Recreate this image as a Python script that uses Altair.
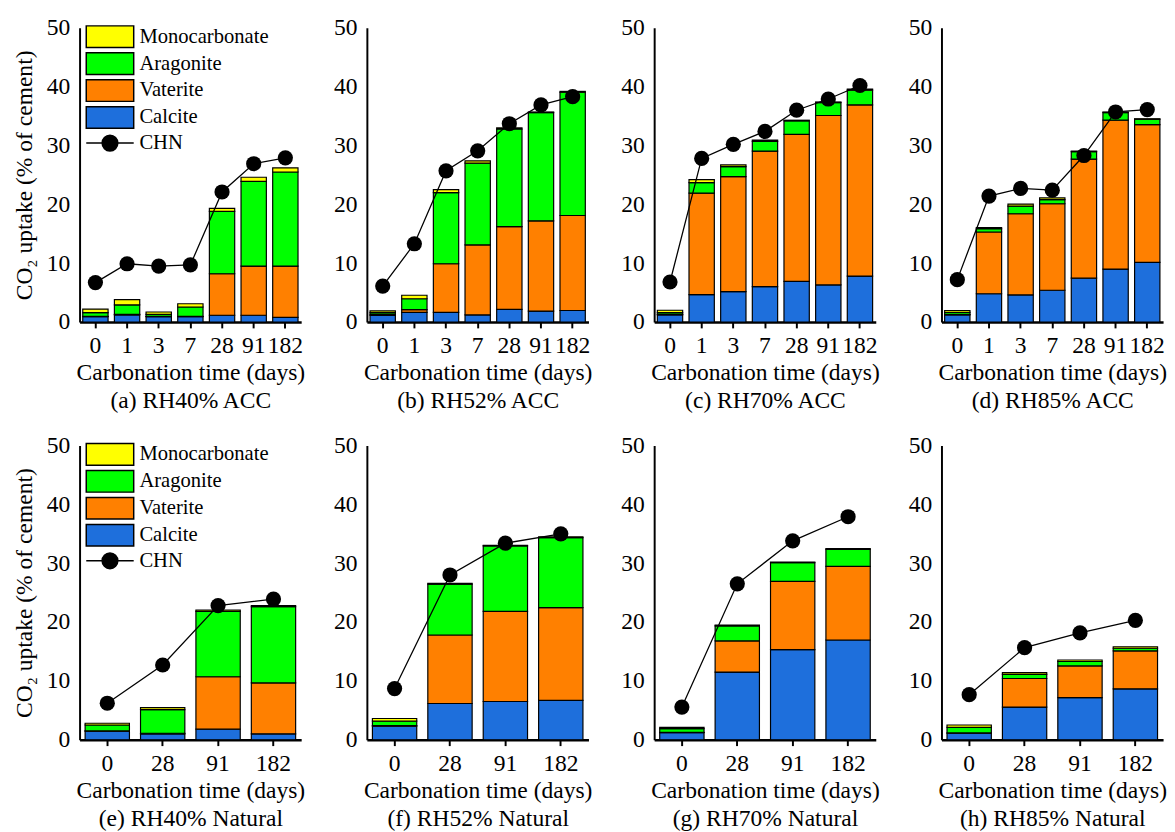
import altair as alt
import pandas as pd

FONT = "Liberation Serif"

components = ["Calcite", "Vaterite", "Aragonite", "Monocarbonate"]
legend_domain = ["Monocarbonate", "Aragonite", "Vaterite", "Calcite", "CHN"]
legend_colors = ["#FFFF00", "#00FF00", "#FF8000", "#1E6FDC", "#000000"]

acc_times = ["0", "1", "3", "7", "28", "91", "182"]
nat_times = ["0", "28", "91", "182"]

# (a) RH40% ACC
a_calcite = [0.9, 1.2, 0.9, 0.9, 1.15, 1.15, 0.8]
a_vaterite = [0.05, 0.1, 0.05, 0.05, 7.05, 8.35, 8.7]
a_aragonite = [0.65, 1.6, 0.35, 1.6, 10.6, 14.4, 16.0]
a_mono = [0.6, 0.9, 0.4, 0.55, 0.5, 0.7, 0.7]
a_chn = [6.7, 9.9, 9.5, 9.7, 22.1, 26.9, 27.9]

# (b) RH52% ACC
b_calcite = [1.1, 1.65, 1.65, 1.2, 2.15, 1.85, 1.95]
b_vaterite = [0.2, 0.45, 8.25, 11.9, 14.05, 15.35, 16.15]
b_aragonite = [0.3, 1.85, 12.1, 13.9, 16.6, 18.4, 20.95]
b_mono = [0.3, 0.6, 0.5, 0.4, 0.2, 0.1, 0.15]
b_chn = [6.1, 13.3, 25.7, 29.1, 33.7, 36.9, 38.3]

# (c) RH70% ACC
c_calcite = [1.2, 4.65, 5.15, 6.0, 6.9, 6.3, 7.8]
c_vaterite = [0.1, 17.25, 19.55, 23.05, 25.0, 28.8, 29.1]
c_aragonite = [0.3, 1.8, 1.7, 1.65, 2.3, 2.2, 2.5]
c_mono = [0.4, 0.5, 0.3, 0.2, 0.1, 0.1, 0.2]
c_chn = [6.8, 27.8, 30.2, 32.4, 36.0, 37.9, 40.2]

# (d) RH85% ACC
d_calcite = [1.2, 4.8, 4.6, 5.4, 7.45, 9.0, 10.15]
d_vaterite = [0.1, 10.5, 13.8, 14.7, 20.25, 25.3, 23.4]
d_aragonite = [0.35, 0.55, 1.3, 0.7, 1.25, 1.3, 0.9]
d_mono = [0.3, 0.2, 0.35, 0.3, 0.1, 0.1, 0.1]
d_chn = [7.2, 21.4, 22.7, 22.4, 28.3, 35.7, 36.1]

# (e) RH40% Natural
e_calcite = [1.45, 1.0, 1.8, 1.0]
e_vaterite = [0.05, 0.1, 8.9, 8.65]
e_aragonite = [1.0, 4.0, 11.1, 12.95]
e_mono = [0.3, 0.35, 0.25, 0.2]
e_chn = [6.2, 12.7, 22.8, 23.9]

# (f) RH52% Natural
f_calcite = [2.3, 6.15, 6.5, 6.7]
f_vaterite = [0.1, 11.65, 15.3, 15.75]
f_aragonite = [0.75, 8.65, 11.15, 11.9]
f_mono = [0.45, 0.15, 0.1, 0.15]
f_chn = [8.7, 28.0, 33.4, 35.0]

# (g) RH70% Natural
g_calcite = [1.2, 11.5, 15.3, 16.95]
g_vaterite = [0.05, 5.3, 11.6, 12.5]
g_aragonite = [0.65, 2.55, 3.2, 2.9]
g_mono = [0.2, 0.15, 0.1, 0.15]
g_chn = [5.55, 26.5, 33.8, 37.9]

# (h) RH85% Natural
h_calcite = [1.1, 5.55, 7.15, 8.65]
h_vaterite = [0.05, 4.85, 5.4, 6.45]
h_aragonite = [0.95, 0.7, 0.75, 0.45]
h_mono = [0.4, 0.3, 0.25, 0.25]
h_chn = [7.65, 15.65, 18.15, 20.3]

RECT = "M-2.2,-1L2.2,-1L2.2,1L-2.2,1Z"
CHN_SYM = ("M-2.2,0L-0.73,0M0.73,0L2.2,0M-0.73,0A0.73,0.73,0,1,1,0.73,0"
           "A0.73,0.73,0,1,1,-0.73,0Z")
SYM_SIZE = 484

W, H = 226, 300


def panel(times, cal, vat, ara, mono, chn, caption, first_col, show_legend):
    rows = []
    for i, t in enumerate(times):
        for k, (name, vals) in enumerate(zip(components, [cal, vat, ara, mono])):
            rows.append({"time": t, "component": name, "value": vals[i], "order": k})
    bars_df = pd.DataFrame(rows)
    chn_df = pd.DataFrame({"time": times, "value": chn})

    xscale = alt.Scale(domain=times, paddingInner=0.2, paddingOuter=0.1)
    xaxis = alt.Axis(title=["Carbonation time (days)", caption], labelAngle=0,
                     labelOverlap=False)
    x = alt.X("time:N", sort=times, scale=xscale, axis=xaxis)
    yscale = alt.Scale(domain=[0, 50], nice=False, zero=True)
    yaxis = alt.Axis(title="CO₂ uptake (% of cement)" if first_col else None,
                     values=[0, 10, 20, 30, 40, 50])
    leg = None
    if show_legend:
        leg = alt.Legend(title=None, orient="none", legendX=19, legendY=-3,
                         labelFont=FONT, labelFontSize=21, labelColor="black",
                         labelOffset=18, rowPadding=-0.5, padding=0,
                         symbolStrokeColor="black", symbolStrokeWidth=1.5,
                         symbolSize=SYM_SIZE, symbolFillColor="black")
    color = alt.Color("component:N",
                      scale=alt.Scale(domain=legend_domain, range=legend_colors),
                      legend=leg)

    bars = alt.Chart(bars_df).mark_bar(stroke="black", strokeWidth=1.2).encode(
        x=x,
        y=alt.Y("value:Q", stack="zero", scale=yscale, axis=yaxis),
        color=color,
        order=alt.Order("order:Q", sort="ascending"),
    )
    line = alt.Chart(chn_df).mark_line(color="black", strokeWidth=1.3).encode(
        x=x, y=alt.Y("value:Q", scale=yscale, axis=yaxis)
    )
    pts = alt.Chart(chn_df).mark_point(filled=True, color="black", size=240,
                                       opacity=1).encode(
        x=x, y=alt.Y("value:Q", scale=yscale, axis=yaxis)
    )
    layers = [bars, line, pts]
    if show_legend:
        dummy_df = pd.DataFrame({"time": [times[0]] * 5,
                                 "component": legend_domain,
                                 "value": [None] * 5})
        dummy = alt.Chart(dummy_df).mark_point(filled=True, size=SYM_SIZE,
                                               opacity=1).encode(
            x=x,
            y=alt.Y("value:Q", scale=yscale, axis=yaxis),
            color=color,
            shape=alt.Shape("component:N",
                            scale=alt.Scale(domain=legend_domain,
                                            range=[RECT] * 4 + [CHN_SYM]),
                            legend=leg),
        )
        layers.append(dummy)
    return alt.layer(*layers).properties(width=W, height=H)


pa = panel(acc_times, a_calcite, a_vaterite, a_aragonite, a_mono, a_chn,
           "(a) RH40% ACC", True, True)
pb = panel(acc_times, b_calcite, b_vaterite, b_aragonite, b_mono, b_chn,
           "(b) RH52% ACC", False, False)
pc = panel(acc_times, c_calcite, c_vaterite, c_aragonite, c_mono, c_chn,
           "(c) RH70% ACC", False, False)
pd_ = panel(acc_times, d_calcite, d_vaterite, d_aragonite, d_mono, d_chn,
            "(d) RH85% ACC", False, False)
pe = panel(nat_times, e_calcite, e_vaterite, e_aragonite, e_mono, e_chn,
           "(e) RH40% Natural", True, True)
pf = panel(nat_times, f_calcite, f_vaterite, f_aragonite, f_mono, f_chn,
           "(f) RH52% Natural", False, False)
pg = panel(nat_times, g_calcite, g_vaterite, g_aragonite, g_mono, g_chn,
           "(g) RH70% Natural", False, False)
ph = panel(nat_times, h_calcite, h_vaterite, h_aragonite, h_mono, h_chn,
           "(h) RH85% Natural", False, False)

indep = dict(color="independent", shape="independent")

top = alt.hconcat(pa, pb, pc, pd_, spacing=29).resolve_scale(**indep).resolve_legend(**indep)
bot = alt.hconcat(pe, pf, pg, ph, spacing=29).resolve_scale(**indep).resolve_legend(**indep)

chart = (
    alt.vconcat(top, bot, spacing=22)
    .resolve_scale(**indep)
    .resolve_legend(**indep)
    .properties(padding={"left": 4, "top": 0, "right": 0, "bottom": 0})
    .configure(font=FONT)
    .configure_view(stroke=None)
    .configure_axis(
        labelFont=FONT, titleFont=FONT, labelColor="black", titleColor="black",
        labelFontSize=24, titleFontSize=24, titleFontWeight="normal",
        domainColor="black", grid=False,
    )
    .configure_axisY(domainWidth=2, ticks=False, labelPadding=10, titlePadding=10)
    .configure_axisX(domainWidth=2.5, ticks=True, tickSize=6, tickWidth=2,
                     tickColor="black", labelPadding=6, titlePadding=4,
                     titleLineHeight=28)
)

chart.save("out.html", embed_options={"renderer": "svg", "actions": False})
